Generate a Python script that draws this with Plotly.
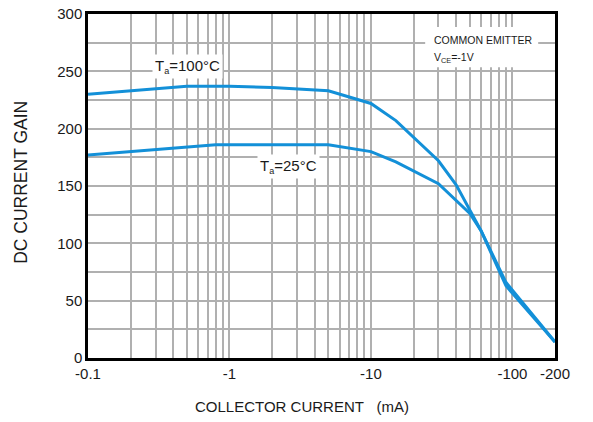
import plotly.graph_objects as go

# Data (collector current magnitude in mA, DC current gain)
ic_100 = [0.1, 0.5, 1, 2, 5, 10, 15, 30, 40, 60, 90, 150, 200]
hfe_100 = [230, 237, 237, 236, 233, 222, 207, 172, 151, 111, 66, 33, 14]

ic_25 = [0.1, 0.5, 0.8, 5, 10, 15, 30, 50, 60, 90, 150, 200]
hfe_25 = [177, 184, 186, 186, 180, 171, 152, 126, 111, 63, 32, 14]

x_major = [0.1, 1, 10, 100, 200]
x_major_text = ["-0.1", "-1", "-10", "-100", "-200"]
x_minor = [m * d for d in (0.1, 1, 10) for m in range(2, 10)]

y_major = list(range(0, 301, 50))
y_minor_step = 25

line_color = "#1390d8"
grid_color = "#b0b0b0"
font_family = "Liberation Sans, Arial, sans-serif"

fig = go.Figure()
fig.add_trace(go.Scatter(x=ic_100, y=hfe_100, mode="lines",
                         line=dict(color=line_color, width=3), showlegend=False))
fig.add_trace(go.Scatter(x=ic_25, y=hfe_25, mode="lines",
                         line=dict(color=line_color, width=3), showlegend=False))

fig.update_layout(
    width=593, height=422,
    margin=dict(l=88, r=38, t=14, b=64, autoexpand=False),
    paper_bgcolor="white", plot_bgcolor="white",
    font=dict(family=font_family, size=15, color="#1a1a1a"),
    xaxis=dict(type="log", range=[-1, 2.30103], automargin=False,
               tickmode="array", tickvals=x_major, ticktext=x_major_text, ticks="",
               showgrid=True, gridcolor=grid_color, gridwidth=1.5,
               minor=dict(tickmode="array", tickvals=x_minor, showgrid=True,
                          gridcolor=grid_color, gridwidth=1.5, ticks=""),
               showline=True, linecolor="black", linewidth=2.5, mirror=True,
               zeroline=False, tickfont=dict(size=15)),
    yaxis=dict(range=[0, 300], tickmode="array", tickvals=y_major, ticks="",
               automargin=False,
               showgrid=True, gridcolor=grid_color, gridwidth=1.5,
               minor=dict(dtick=y_minor_step, showgrid=True,
                          gridcolor=grid_color, gridwidth=1.5, ticks=""),
               showline=True, linecolor="black", linewidth=2.5, mirror=True,
               zeroline=False, tickfont=dict(size=15)),
)

# white box behind the condition text
fig.add_shape(type="rect", xref="paper", yref="paper",
              x0=0.722, x1=0.964, y0=0.845, y1=0.962,
              fillcolor="white", line=dict(width=0), layer="above")

sub_a = "<sub><span style='font-size:9px'>a</span></sub>"
annotations = [
    dict(text="COLLECTOR CURRENT\u00a0\u00a0\u00a0(mA)", xref="paper", yref="paper",
         x=0.225, y=-0.14, xanchor="left", yanchor="middle", showarrow=False,
         font=dict(size=15)),
    dict(text="DC CURRENT GAIN", xref="paper", yref="paper",
         x=-0.145, y=0.51, xanchor="center", yanchor="middle", textangle=-90,
         showarrow=False, font=dict(size=17.5)),
    dict(text="T" + sub_a + "=100°C", x=-0.3, y=254, xref="x", yref="y",
         showarrow=False, bgcolor="white", borderpad=2, font=dict(size=15)),
    dict(text="T" + sub_a + "=25°C", x=0.42, y=167, xref="x", yref="y",
         showarrow=False, bgcolor="white", borderpad=2, font=dict(size=15)),
    dict(text="COMMON EMITTER", xref="paper", yref="paper", x=0.736, y=0.925,
         xanchor="left", yanchor="middle", showarrow=False, font=dict(size=10.5)),
    dict(text="V<sub>CE</sub>=-1V", xref="paper", yref="paper", x=0.736, y=0.872,
         xanchor="left", yanchor="middle", showarrow=False, font=dict(size=10.5)),
]
fig.update_layout(annotations=annotations)

fig.write_html("out.html")
